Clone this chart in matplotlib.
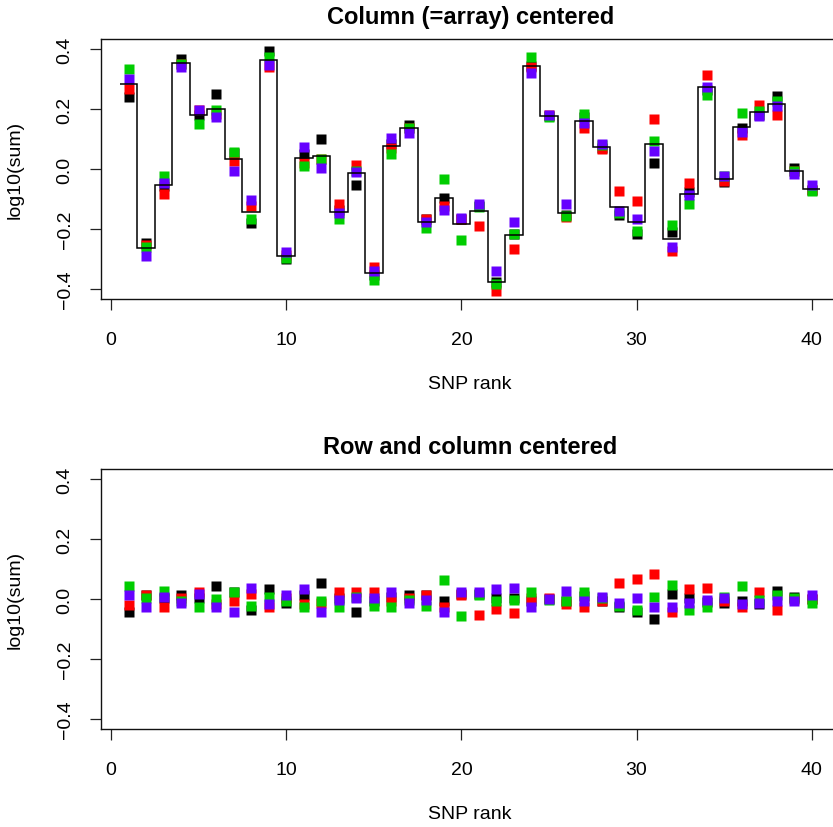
import numpy as np
import matplotlib
matplotlib.use("Agg")
import matplotlib.pyplot as plt

plt.rcParams['font.family'] = ['Liberation Sans', 'DejaVu Sans']

snp_rank = np.arange(1, 41)

# Top panel: column (=array) centered values, one list per array
top_black = [0.241, -0.248, -0.055, 0.368, 0.179, 0.249, 0.054, -0.181, 0.395, -0.301,
             0.050, 0.099, -0.138, -0.054, -0.352, 0.084, 0.148, -0.166, -0.098, -0.165,
             -0.123, -0.375, -0.215, 0.342, 0.178, -0.153, 0.172, 0.069, -0.152, -0.218,
             0.019, -0.210, -0.078, 0.262, -0.044, 0.138, 0.180, 0.245, 0.005, -0.071]
top_red = [0.266, -0.252, -0.084, 0.350, 0.198, 0.182, 0.027, -0.124, 0.339, -0.286,
           0.019, 0.033, -0.117, 0.012, -0.325, 0.071, 0.138, -0.168, -0.122, -0.167,
           -0.191, -0.407, -0.265, 0.339, 0.180, -0.161, 0.136, 0.066, -0.074, -0.108,
           0.166, -0.274, -0.048, 0.312, -0.041, 0.115, 0.215, 0.181, -0.008, -0.071]
top_green = [0.332, -0.261, -0.024, 0.349, 0.149, 0.198, 0.058, -0.166, 0.372, -0.298,
             0.009, 0.035, -0.168, -0.006, -0.370, 0.049, 0.138, -0.197, -0.032, -0.238,
             -0.125, -0.384, -0.218, 0.372, 0.174, -0.155, 0.182, 0.079, -0.147, -0.208,
             0.092, -0.185, -0.115, 0.248, -0.022, 0.188, 0.192, 0.228, -0.005, -0.074]
top_purple = [0.300, -0.291, -0.046, 0.341, 0.196, 0.173, -0.008, -0.104, 0.346, -0.276,
              0.072, 0.002, -0.145, -0.011, -0.341, 0.102, 0.121, -0.178, -0.138, -0.162,
              -0.118, -0.341, -0.178, 0.319, 0.179, -0.118, 0.152, 0.082, -0.139, -0.168,
              0.059, -0.261, -0.087, 0.272, -0.024, 0.122, 0.178, 0.209, -0.015, -0.052]

# Bottom panel: row and column centered values
bot_black = [-0.042, 0.015, 0.003, 0.015, 0.003, 0.045, 0.022, -0.038, 0.032, -0.012,
             0.012, 0.055, 0.004, -0.042, -0.005, 0.008, 0.012, 0.012, -0.005, 0.018,
             0.018, 0.002, 0.003, -0.005, 0.000, -0.005, 0.011, -0.005, -0.025, -0.042,
             -0.065, 0.018, 0.002, -0.011, -0.012, -0.005, -0.015, 0.028, 0.008, 0.000]
bot_red = [-0.021, 0.012, -0.027, 0.002, 0.022, -0.017, -0.007, 0.018, -0.025, 0.005,
           -0.018, -0.012, 0.025, 0.025, 0.022, -0.005, 0.002, 0.012, -0.025, 0.015,
           -0.052, -0.032, -0.045, 0.002, 0.003, -0.015, -0.025, -0.008, 0.052, 0.068,
           0.082, -0.042, 0.032, 0.038, -0.008, -0.025, 0.022, -0.035, 0.000, 0.000]
bot_green = [0.045, 0.002, 0.028, -0.005, -0.027, -0.001, 0.025, -0.022, 0.008, -0.008,
             -0.027, -0.008, -0.027, 0.008, -0.022, -0.028, -0.002, -0.022, 0.065, -0.055,
             0.012, -0.008, -0.002, 0.025, -0.004, -0.008, 0.022, 0.005, -0.022, -0.035,
             0.008, 0.048, -0.038, -0.025, 0.008, 0.045, -0.002, 0.012, 0.002, -0.012]
bot_purple = [0.013, -0.027, 0.008, -0.012, 0.018, -0.027, -0.042, 0.038, -0.018, 0.015,
              0.035, -0.042, -0.002, 0.002, 0.005, 0.025, -0.012, -0.002, -0.042, 0.022,
              0.022, 0.035, 0.038, -0.028, -0.001, 0.028, -0.008, 0.008, -0.012, 0.005,
              -0.025, -0.028, -0.012, -0.002, 0.005, -0.018, -0.012, -0.008, -0.008, 0.015]

series_colors = ['#000000', '#FF0000', '#00CD00', '#6600FF']
titles = ['Column (=array) centered', 'Row and column centered']
x_ticks = [0, 10, 20, 30, 40]
y_ticks = [-0.4, -0.2, 0.0, 0.2, 0.4]
y_tick_labels = ['\u22120.4', '\u22120.2', '0.0', '0.2', '0.4']

W, H = 833, 828
fig = plt.figure(figsize=(W / 100, H / 100), dpi=100)

def px_axes(left, top, right, bottom):
    return fig.add_axes([left / W, 1 - bottom / H, (right - left) / W, (bottom - top) / H])

ax_top = px_axes(101.3, 40.4, 839.0, 299.6)
ax_bot = px_axes(101.3, 470.4, 839.0, 729.6)

top_sets = [top_black, top_red, top_green, top_purple]
bot_sets = [bot_black, bot_red, bot_green, bot_purple]

for ax, sets, title in [(ax_top, top_sets, titles[0]), (ax_bot, bot_sets, titles[1])]:
    for vals, col in zip(sets, series_colors):
        ax.plot(snp_rank, vals, linestyle='none', marker='s', markersize=6.5,
                markerfacecolor=col, markeredgecolor='none', zorder=2)
    ax.set_xlim(-0.56, 41.56)
    ax.set_ylim(-0.432, 0.432)
    ax.set_xticks(x_ticks)
    ax.set_xticklabels([str(t) for t in x_ticks])
    ax.set_yticks(y_ticks)
    ax.set_yticklabels(y_tick_labels, rotation=90, va='center')
    ax.tick_params(direction='out', length=8, width=0.9, labelsize=14, color='#222222')
    ax.tick_params(axis='x', pad=15)
    ax.tick_params(axis='y', pad=12)
    for sp in ax.spines.values():
        sp.set_linewidth(1.0)
        sp.set_color('#111111')
    ax.set_title(title, fontsize=17, fontweight='bold', pad=12)
    ax.set_xlabel('SNP rank', fontsize=14, labelpad=20)
    ax.set_ylabel('log10(sum)', fontsize=14, labelpad=24)

# step line through the SNP means of the top panel
means = np.mean(np.array(top_sets), axis=0)
edges = np.arange(0.5, 41.5, 1.0)
ax_top.stairs(means, edges, baseline=None, color='black', linewidth=1.1, zorder=3)

fig.savefig('out.png', dpi=100)
